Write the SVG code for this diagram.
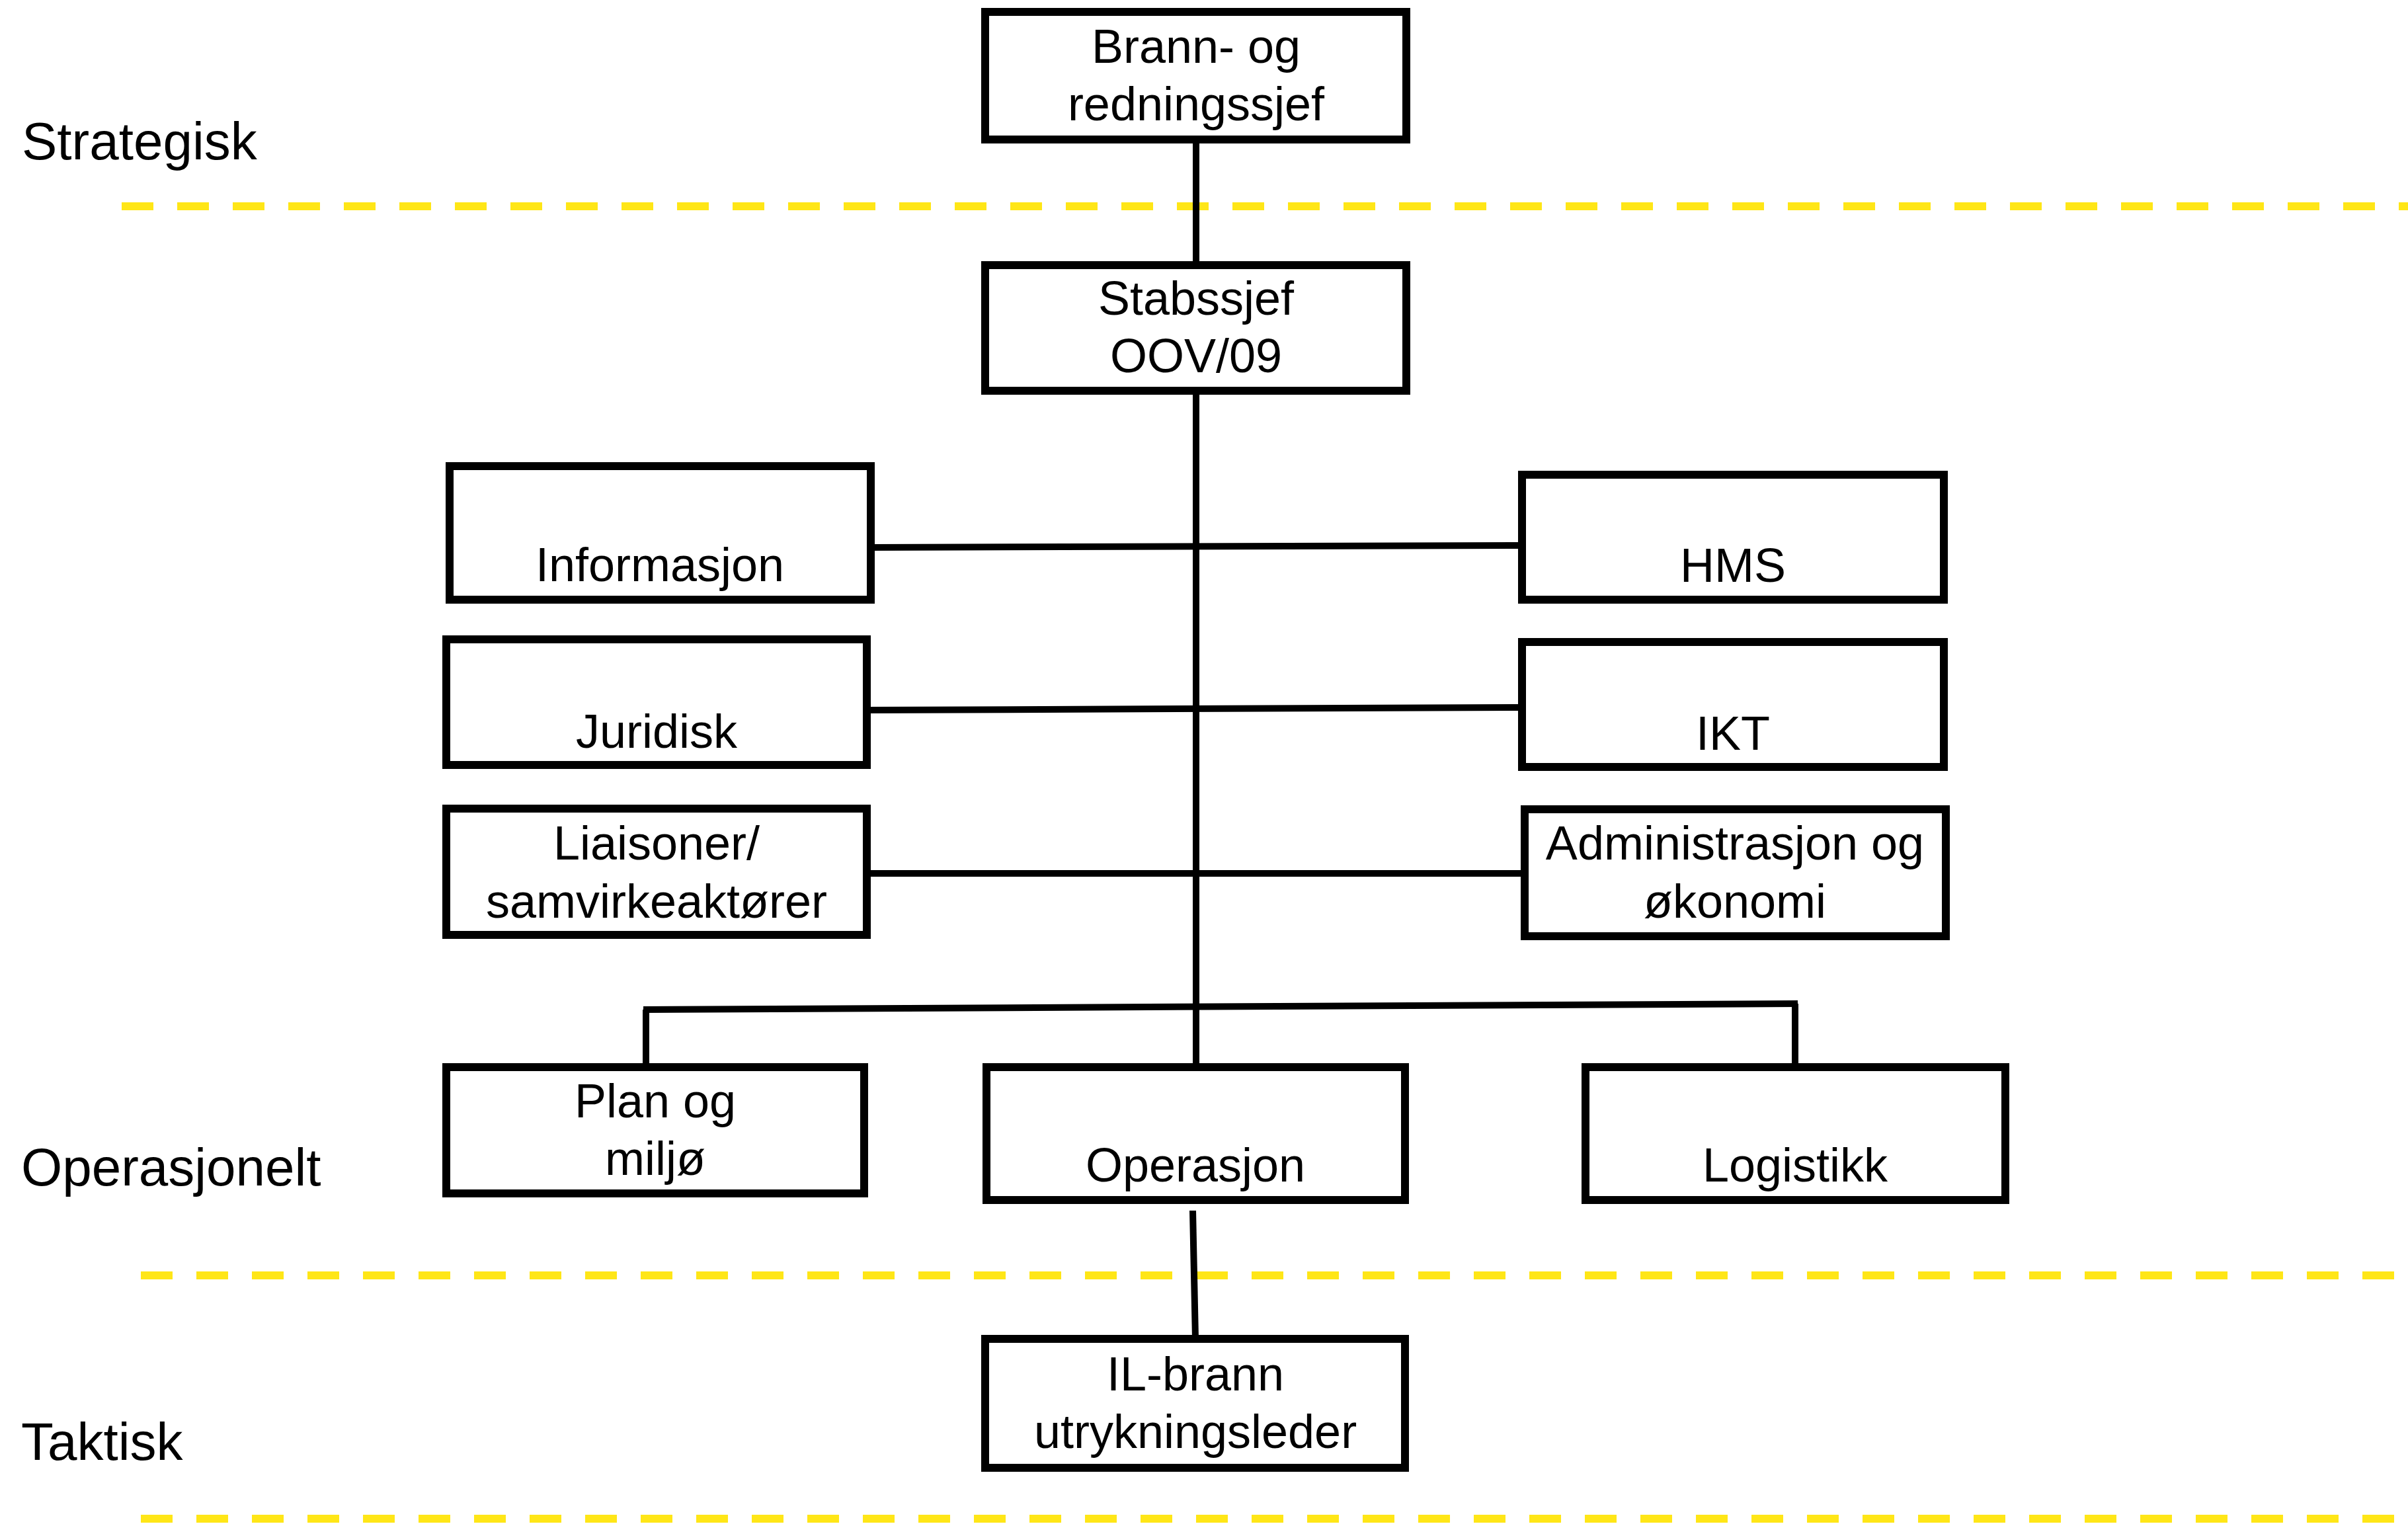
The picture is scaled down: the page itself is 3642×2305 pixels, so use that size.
<svg xmlns="http://www.w3.org/2000/svg" width="3642" height="2305" viewBox="0 0 3642 2305">
<style>
.box{fill:#fff;stroke:#000;stroke-width:12}
.t{font-family:"Liberation Sans",Arial,sans-serif;font-size:72px;fill:#000;text-anchor:middle}
.lbl{font-family:"Liberation Sans",Arial,sans-serif;font-size:80px;fill:#000}
.c{stroke:#000;stroke-width:10;fill:none}
.y{stroke:#FFE617;stroke-width:12;stroke-dasharray:48 36;fill:none}
</style>
<rect width="3642" height="2305" fill="#fff"/>
<g id="levels">
<line class="y" x1="184" y1="312" x2="3642" y2="312"/>
<line class="y" x1="213" y1="1929" x2="3642" y2="1929"/>
<line class="y" x1="213" y1="2297" x2="3642" y2="2297"/>
<text class="lbl" x="33" y="241">Strategisk</text>
<text class="lbl" x="32" y="1793">Operasjonelt</text>
<text class="lbl" x="32" y="2208">Taktisk</text>
</g>
<g id="connectors">
<line class="c" x1="1809" y1="211" x2="1809" y2="401"/>
<line class="c" x1="1809" y1="591" x2="1809" y2="1614"/>
<line class="c" x1="1317" y1="828" x2="2302" y2="825"/>
<line class="c" x1="1311" y1="1074" x2="2302" y2="1070"/>
<line class="c" x1="1311" y1="1321" x2="2306" y2="1321"/>
<line class="c" x1="973" y1="1527" x2="2719" y2="1518"/>
<line class="c" x1="977" y1="1527" x2="977" y2="1614"/>
<line class="c" x1="2715" y1="1518" x2="2715" y2="1614"/>
<line class="c" x1="1804" y1="1831" x2="1808" y2="2025"/>
</g>
<g id="brann"><rect class="box" x="1490" y="18" width="637" height="193"/><text class="t" x="1809" y="95">Brann- og</text><text class="t" x="1809" y="182">redningssjef</text></g>
<g id="stabssjef"><rect class="box" x="1490" y="401" width="637" height="190"/><text class="t" x="1809" y="476">Stabssjef</text><text class="t" x="1809" y="563">OOV/09</text></g>
<g id="informasjon"><rect class="box" x="680" y="705" width="637" height="202"/><text class="t" x="998" y="879">Informasjon</text></g>
<g id="hms"><rect class="box" x="2302" y="718" width="638" height="189"/><text class="t" x="2621" y="880">HMS</text></g>
<g id="juridisk"><rect class="box" x="675" y="967" width="636" height="190"/><text class="t" x="993" y="1131">Juridisk</text></g>
<g id="ikt"><rect class="box" x="2302" y="971" width="638" height="189"/><text class="t" x="2621" y="1134">IKT</text></g>
<g id="liaisoner"><rect class="box" x="675" y="1223" width="636" height="191"/><text class="t" x="993" y="1300">Liaisoner/</text><text class="t" x="993" y="1388">samvirkeaktører</text></g>
<g id="administrasjon"><rect class="box" x="2306" y="1224" width="637" height="192"/><text class="t" x="2624" y="1300">Administrasjon og</text><text class="t" x="2624" y="1388">økonomi</text></g>
<g id="plan"><rect class="box" x="675" y="1614" width="632" height="191"/><text class="t" x="991" y="1690">Plan og</text><text class="t" x="991" y="1777">miljø</text></g>
<g id="operasjon"><rect class="box" x="1492" y="1614" width="633" height="201"/><text class="t" x="1808" y="1787">Operasjon</text></g>
<g id="logistikk"><rect class="box" x="2398" y="1614" width="635" height="201"/><text class="t" x="2715" y="1787">Logistikk</text></g>
<g id="ilbrann"><rect class="box" x="1490" y="2025" width="635" height="195"/><text class="t" x="1808" y="2103">IL-brann</text><text class="t" x="1808" y="2190">utrykningsleder</text></g>
</svg>
